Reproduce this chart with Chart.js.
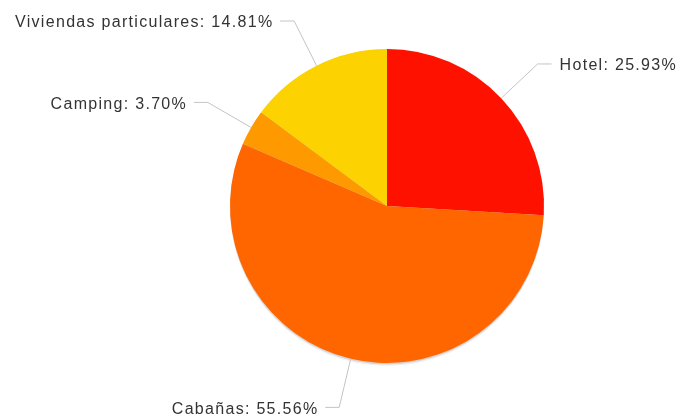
<!DOCTYPE html>
<html lang="es">
<head>
  <meta charset="UTF-8" />
  <title>Tipo de alojamiento</title>
  <script src="https://cdn.jsdelivr.net/npm/chart.js"></script>
  <style>
    html, body { margin: 0; padding: 0; background: #ffffff; }
    #wrap { width: 680px; height: 419px; position: relative; }
  </style>
</head>
<body>
  <div id="wrap"><canvas id="pie"></canvas></div>
  <script>
    const categories = ["Hotel", "Cabañas", "Camping", "Viviendas particulares"];
    const shares = [25.93, 55.56, 3.70, 14.81];
    const sliceColors = ["#ff1100", "#ff6600", "#ff9900", "#fcd200"];

    // soft drop shadow under the whole pie
    const pieShadow = {
      id: "pieShadow",
      beforeDatasetsDraw(chart) {
        const arc = chart.getDatasetMeta(0).data[0];
        if (!arc) return;
        const ctx = chart.ctx;
        ctx.save();
        [[3, "rgba(0,0,0,0.06)"], [1.5, "rgba(0,0,0,0.12)"]].forEach(([dy, col]) => {
          ctx.beginPath();
          ctx.arc(arc.x, arc.y + dy, arc.outerRadius, 0, Math.PI * 2);
          ctx.fillStyle = col;
          ctx.fill();
        });
        ctx.restore();
      }
    };

    // labels outside the pie with elbow leader lines
    const outerLabels = {
      id: "outerLabels",
      afterDatasetsDraw(chart) {
        const ctx = chart.ctx;
        const ds = chart.data.datasets[0];
        ctx.save();
        ctx.font = "16px 'Liberation Sans', Arial, sans-serif";
        ctx.letterSpacing = "1.3px";
        ctx.fillStyle = "#333333";
        ctx.strokeStyle = "#c4c4c4";
        ctx.lineWidth = 1;
        chart.getDatasetMeta(0).data.forEach((arc, i) => {
          const mid = (arc.startAngle + arc.endAngle) / 2;
          const cos = Math.cos(mid), sin = Math.sin(mid);
          const r = arc.outerRadius;
          const x0 = arc.x + cos * r, y0 = arc.y + sin * r;
          const x1 = arc.x + cos * (r + 50), y1 = arc.y + sin * (r + 50);
          const right = cos >= 0;
          const x2 = x1 + (right ? 14 : -14);
          ctx.beginPath();
          ctx.moveTo(x0, y0);
          ctx.lineTo(x1, y1);
          ctx.lineTo(x2, y1);
          ctx.stroke();
          const text = chart.data.labels[i] + ": " + ds.data[i].toFixed(2) + "%";
          ctx.textAlign = right ? "left" : "right";
          ctx.textBaseline = "middle";
          // trailing letter spacing pushes right-aligned text left, compensate
          ctx.fillText(text, x2 + (right ? 8 : -6.7), y1 + 2);
        });
        ctx.restore();
      }
    };

    new Chart(document.getElementById("pie"), {
      type: "pie",
      data: {
        labels: categories,
        datasets: [{
          data: shares,
          backgroundColor: sliceColors,
          borderWidth: 0
        }]
      },
      options: {
        responsive: true,
        maintainAspectRatio: false,
        animation: false,
        layout: { padding: { left: 230, right: 136, top: 49, bottom: 56 } },
        plugins: {
          legend: { display: false },
          tooltip: { enabled: false }
        }
      },
      plugins: [pieShadow, outerLabels]
    });
  </script>
</body>
</html>
